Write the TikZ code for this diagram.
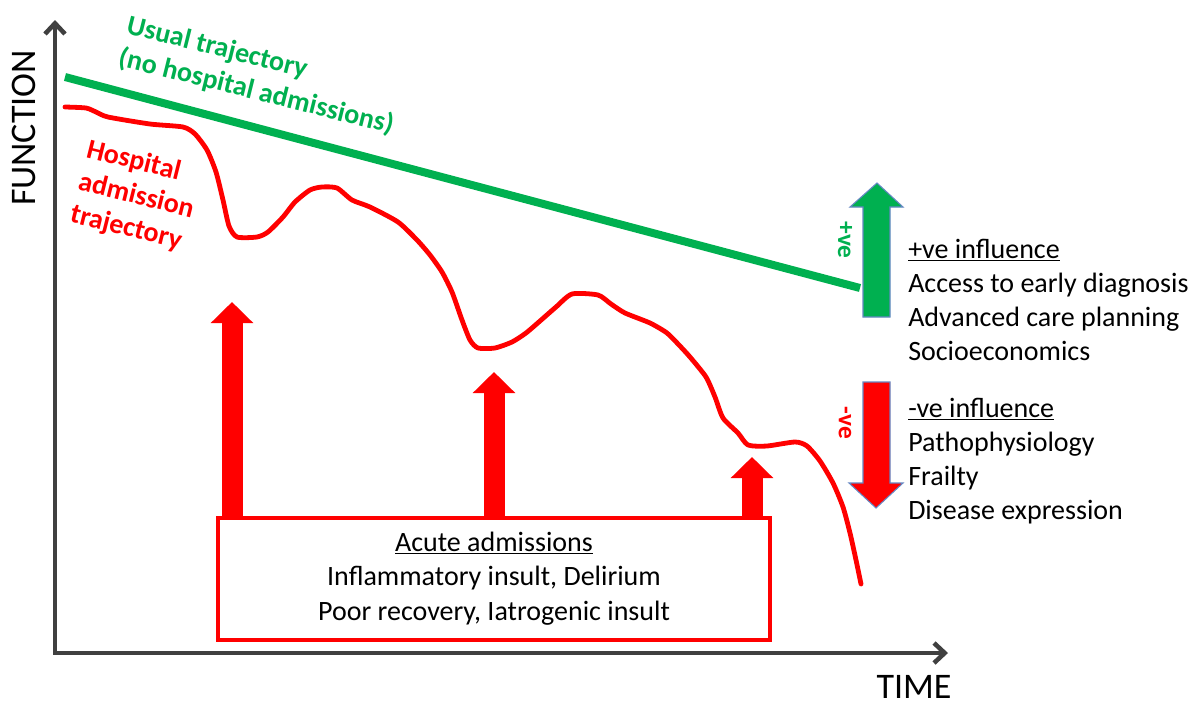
\documentclass[tikz,border=0pt]{standalone}
\usepackage{fontspec}
\setmainfont{Carlito}
\usetikzlibrary{arrows.meta}
\definecolor{axisgray}{HTML}{404040}
\definecolor{posgreen}{HTML}{00B050}
\definecolor{negred}{HTML}{FF0000}
\definecolor{outlineblue}{RGB}{100,135,195}
\begin{document}
\begin{tikzpicture}[x=0.75pt,y=-0.75pt,
  axisline/.style={draw=axisgray,line width=3.4pt,line join=miter,
    {Straight Barb[length=8pt,width=15pt]}-{Straight Barb[length=8pt,width=15pt]}},
  axislabel/.style={inner sep=0pt,font=\fontsize{27}{30}\selectfont,text=black},
  usualline/.style={draw=posgreen,line width=6pt},
  admline/.style={draw=negred,line width=3.6pt,line join=round,line cap=round},
  curvelabel/.style={inner sep=0pt,anchor=base west,rotate=-14,font=\bfseries\fontsize{21}{25}\selectfont},
  bodytext/.style={inner sep=0pt,font=\fontsize{21}{25.7}\selectfont,text=black},
  admbox/.style={draw=negred,line width=3pt,fill=white,minimum width=552*0.75pt,minimum height=122*0.75pt,
    inner sep=0pt,outer sep=0pt,font=\fontsize{21}{25.9}\selectfont,text=black},
  blockup/.style={draw=negred,line width=15.75pt,-{Triangle[length=15.75pt,width=31pt]}},
  inflarrow/.style={draw=outlineblue,line width=0.8pt,line join=miter},
  vlabel/.style={inner sep=0pt,rotate=-90,font=\bfseries\fontsize{19}{22}\selectfont}
]
\useasboundingbox[fill=white] (0,0) rectangle (1200,704);

% axes
\coordinate (ytip) at (55,20);
\coordinate (origin) at (55,653);
\coordinate (xtip) at (948,653);
\draw[axisline] (ytip) -- (origin) -- (xtip);
\node[axislabel,rotate=90] (function) at (23.5,128) {FUNCTION};
\node[axislabel] (time) at (914,687) {TIME};

% usual trajectory
\coordinate (u1) at (65,77);
\coordinate (u2) at (860,288);
\draw[usualline] (u1) -- (u2);
\node[curvelabel,text=posgreen] (usual) at (125,33)
  {\begin{tabular}[t]{@{}l@{}}Usual trajectory\\(no hospital admissions)\end{tabular}};

% hospital admission trajectory
\draw[admline] plot[smooth,tension=0.4] coordinates {
(65,107) (86,108) (96,112) (108,117) (150,124) (183,127) (195,134) (207,150)
(216,172) (223,200) (229,226) (237,237) (257,237) (268,232) (283,217) (295,202)
(310,190) (322,187) (337,188) (352,200) (370,207) (398,222) (417,240) (430,255)
(442,272) (452,292) (462,320) (470,340) (478,348) (495,348) (512,342) (526,333)
(540,321) (556,307) (572,294) (598,295) (611,304) (625,313) (650,323) (667,333)
(679,345) (690,357) (706,377) (715,397) (723,418) (738,433) (748,445) (767,446)
(795,442) (807,446) (820,461) (833,483) (843,507) (850,533) (856,560) (861,584)};
\node[curvelabel,text=negred] (hosp) at (85,157)
  {\begin{tabular}[t]{@{}l@{}}Hospital\\admission\\trajectory\end{tabular}};

% acute admissions box and arrows
\node[admbox] (box) at (494,579)
  {\begin{tabular}{@{}c@{}}\underline{Acute admissions}\\Inflammatory insult, Delirium\\Poor recovery, Iatrogenic insult\end{tabular}};
\coordinate (a1) at (232,302);
\coordinate (a2) at (494,372);
\coordinate (a3) at (752,457);
\draw[blockup] (box.north -| a1) -- (a1);
\draw[blockup] (box.north -| a2) -- (a2);
\draw[blockup] (box.north -| a3) -- (a3);

% influence arrows
\filldraw[inflarrow,fill=posgreen] (863,317) -- (863,207) -- (850,207) -- (877,183)
  -- (903,207) -- (890,207) -- (890,317) -- cycle;
\filldraw[inflarrow,fill=negred] (863,382) -- (863,483) -- (849,483) -- (876,508)
  -- (903,483) -- (890,483) -- (890,382) -- cycle;
\node[vlabel,text=posgreen] (pos) at (845,240) {+ve};
\node[vlabel,text=negred] (neg) at (845,423) {-ve};

\node[bodytext,anchor=base west] (posinfl) at (908,258)
  {\begin{tabular}[t]{@{}l@{}}\underline{+ve influence}\\Access to early diagnosis\\Advanced care planning\\Socioeconomics\end{tabular}};
\node[bodytext,anchor=base west] (neginfl) at (908,417)
  {\begin{tabular}[t]{@{}l@{}}\underline{-ve influence}\\Pathophysiology\\Frailty\\Disease expression\end{tabular}};
\end{tikzpicture}
\end{document}
